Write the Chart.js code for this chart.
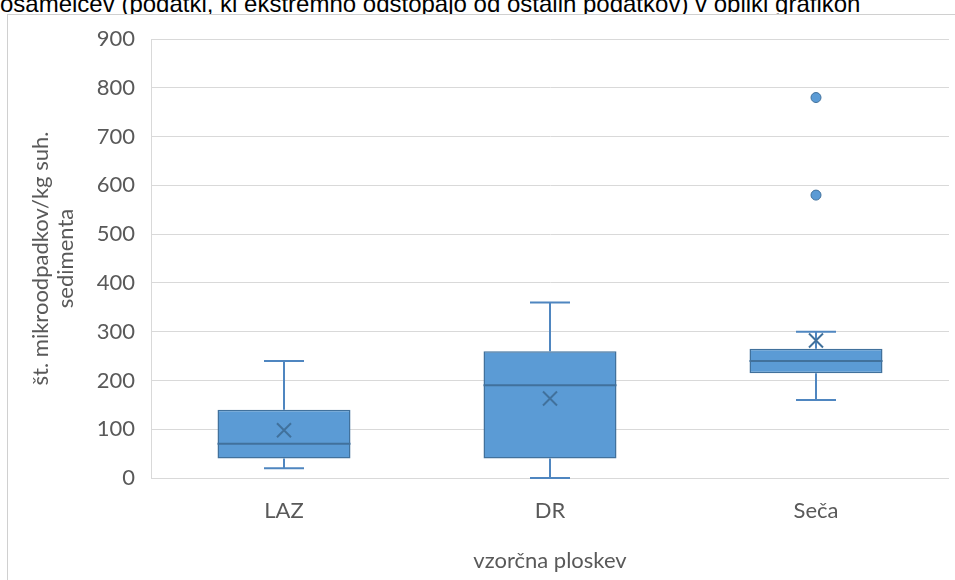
<!DOCTYPE html>
<html>
<head>
<meta charset="utf-8">
<script src="https://cdn.jsdelivr.net/npm/chart.js@4.4.0/dist/chart.umd.min.js"></script>
<style>
  body { margin: 0; background: #fff; width: 955px; height: 580px; overflow: hidden; position: relative; }
  #caption { position: absolute; left: 0; top: -8px; white-space: nowrap; font: 24px "Liberation Sans", Arial, sans-serif; line-height: 24px; color: #000; }
  #frame { position: absolute; left: 7px; top: 14px; width: 1000px; height: 700px; border: 1px solid #d0d0d0; background: #fff; }
  #wrap { position: absolute; left: 0; top: 0; width: 955px; height: 580px; }
</style>
</head>
<body>
<div id="caption">osamelcev (podatki, ki ekstremno odstopajo od ostalih podatkov) v obliki grafikon</div>
<div id="frame"></div>
<div id="wrap"><canvas id="boxChart" width="955" height="580"></canvas></div>
<script>
// values
const categories = ['LAZ', 'DR', 'Seča'];
const minVals    = [20, 0, 160];
const q1Vals     = [40, 40, 215];
const medianVals = [70, 190, 240];
const q3Vals     = [140, 260, 265];
const maxVals    = [240, 360, 300];
const meanVals   = [98, 163, 282];
const outlierCats = ['Seča', 'Seča'];
const outlierVals = [780, 580];
const yTicks = [0, 100, 200, 300, 400, 500, 600, 700, 800, 900];

const boxFill = '#5b9bd5';
const boxLine = '#41719c';
const whiskerLine = '#4f86c0';
const textColor = '#595959';
const gridColor = '#d9d9d9';

// whiskers, median and mean marker drawn with the chart's own scales
const boxExtras = {
  id: 'boxExtras',
  beforeDatasetsDraw(chart) {
    const ctx = chart.ctx;
    const x = chart.scales.x, y = chart.scales.y;
    ctx.save();
    ctx.strokeStyle = whiskerLine;
    ctx.lineWidth = 2;
    categories.forEach((c, i) => {
      const cx = x.getPixelForValue(i);
      const capHalf = 20;
      ctx.beginPath();
      ctx.moveTo(cx, y.getPixelForValue(q3Vals[i]));
      ctx.lineTo(cx, y.getPixelForValue(maxVals[i]));
      ctx.moveTo(cx - capHalf, y.getPixelForValue(maxVals[i]));
      ctx.lineTo(cx + capHalf, y.getPixelForValue(maxVals[i]));
      ctx.moveTo(cx, y.getPixelForValue(q1Vals[i]));
      ctx.lineTo(cx, y.getPixelForValue(minVals[i]));
      ctx.moveTo(cx - capHalf, y.getPixelForValue(minVals[i]));
      ctx.lineTo(cx + capHalf, y.getPixelForValue(minVals[i]));
      ctx.stroke();
    });
    ctx.restore();
  },
  afterDatasetsDraw(chart) {
    const ctx = chart.ctx;
    const y = chart.scales.y;
    const bars = chart.getDatasetMeta(1).data;
    ctx.save();
    ctx.strokeStyle = boxLine;
    ctx.lineWidth = 2;
    bars.forEach((bar, i) => {
      const half = bar.width / 2;
      const my = y.getPixelForValue(medianVals[i]);
      ctx.beginPath();
      ctx.moveTo(bar.x - half, my);
      ctx.lineTo(bar.x + half, my);
      ctx.stroke();
      const ay = y.getPixelForValue(meanVals[i]);
      const s = 7;
      ctx.beginPath();
      ctx.moveTo(bar.x - s, ay - s);
      ctx.lineTo(bar.x + s, ay + s);
      ctx.moveTo(bar.x + s, ay - s);
      ctx.lineTo(bar.x - s, ay + s);
      ctx.stroke();
    });
    ctx.restore();
  }
};

const fontFamily = 'Lato, "Open Sans", sans-serif';

new Chart(document.getElementById('boxChart'), {
  type: 'bar',
  data: {
    labels: categories,
    datasets: [
      {
        type: 'line',
        data: outlierCats.map((c, i) => ({ x: c, y: outlierVals[i] })),
        showLine: false,
        pointRadius: 5,
        pointBackgroundColor: boxFill,
        pointBorderColor: boxLine,
        pointBorderWidth: 1,
        order: 0
      },
      {
        data: categories.map((c, i) => [q1Vals[i], q3Vals[i]]),
        backgroundColor: boxFill,
        borderColor: boxLine,
        borderWidth: 1.5,
        borderSkipped: false,
        barPercentage: 0.5,
        categoryPercentage: 1,
        order: 1
      }
    ]
  },
  options: {
    responsive: false,
    animation: false,
    events: [],
    layout: { padding: { left: 0, top: 39, right: 4, bottom: 6 } },
    plugins: { legend: { display: false }, tooltip: { enabled: false } },
    scales: {
      x: {
        grid: { display: false, drawTicks: false },
        border: { display: false },
        ticks: { color: textColor, font: { family: fontFamily, size: 22 }, padding: 20 },
        title: { display: true, text: 'vzorčna ploskev', color: textColor, font: { family: fontFamily, size: 22, lineHeight: 1.15 }, padding: 0 },
        afterFit(scale) { scale.height = 580 - 478 - 6; }
      },
      y: {
        min: 0,
        max: 900,
        afterBuildTicks(scale) { scale.ticks = yTicks.map(v => ({ value: v })); },
        grid: { color: gridColor, lineWidth: 1, drawTicks: false },
        border: { display: true, color: gridColor, width: 1 },
        ticks: { color: textColor, font: { family: fontFamily, size: 22 }, padding: 16 },
        title: { display: true, text: ['št. mikroodpadkov/kg suh.', 'sedimenta'], color: textColor, font: { family: fontFamily, size: 22, lineHeight: 1.15 }, padding: { top: 28, bottom: 0 } },
        afterFit(scale) { scale.width = 151; }
      }
    }
  },
  plugins: [boxExtras]
});
</script>
</body>
</html>
